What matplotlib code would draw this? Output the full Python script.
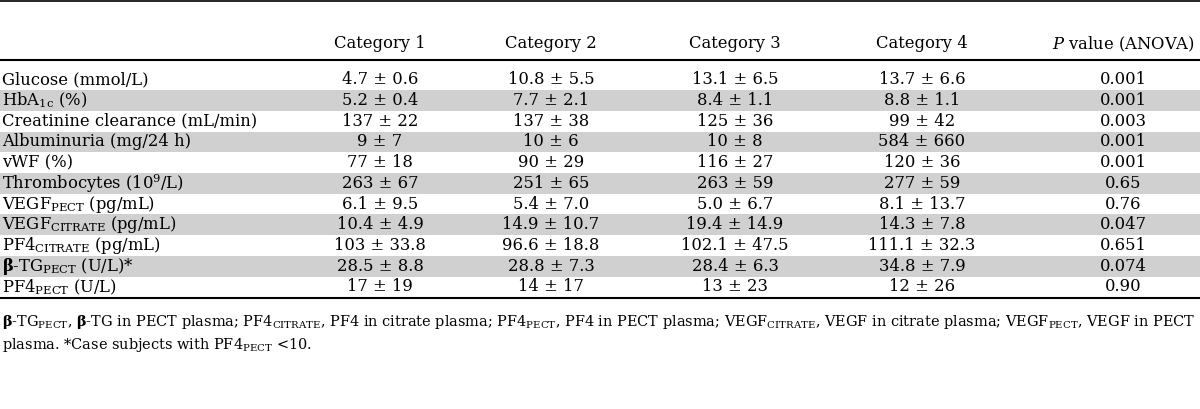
import matplotlib
matplotlib.use("Agg")
import matplotlib.pyplot as plt

FONT = "DejaVu Serif"
plt.rcParams['font.family'] = [FONT]
plt.rcParams['mathtext.fontset'] = 'custom'
plt.rcParams['mathtext.rm'] = FONT
plt.rcParams['mathtext.it'] = FONT + ':italic'
plt.rcParams['mathtext.bf'] = FONT + ':bold'

# ---- data ----
headers = ["Category 1", "Category 2", "Category 3", "Category 4", r"$P$ value (ANOVA)"]
row_labels = [
    "Glucose (mmol/L)",
    r"HbA$_{\mathrm{1c}}$ (%)",
    "Creatinine clearance (mL/min)",
    "Albuminuria (mg/24 h)",
    "vWF (%)",
    r"Thrombocytes (10$^{9}$/L)",
    r"VEGF$_{\mathrm{PECT}}$ (pg/mL)",
    r"VEGF$_{\mathrm{CITRATE}}$ (pg/mL)",
    r"PF4$_{\mathrm{CITRATE}}$ (pg/mL)",
    r"$\mathbf{\beta}$-TG$_{\mathrm{PECT}}$ (U/L)*",
    r"PF4$_{\mathrm{PECT}}$ (U/L)",
]
cat1_mean = ["4.7", "5.2", "137", "9", "77", "263", "6.1", "10.4", "103", "28.5", "17"]
cat1_sd   = ["0.6", "0.4", "22", "7", "18", "67", "9.5", "4.9", "33.8", "8.8", "19"]
cat2_mean = ["10.8", "7.7", "137", "10", "90", "251", "5.4", "14.9", "96.6", "28.8", "14"]
cat2_sd   = ["5.5", "2.1", "38", "6", "29", "65", "7.0", "10.7", "18.8", "7.3", "17"]
cat3_mean = ["13.1", "8.4", "125", "10", "116", "263", "5.0", "19.4", "102.1", "28.4", "13"]
cat3_sd   = ["6.5", "1.1", "36", "8", "27", "59", "6.7", "14.9", "47.5", "6.3", "23"]
cat4_mean = ["13.7", "8.8", "99", "584", "120", "277", "8.1", "14.3", "111.1", "34.8", "12"]
cat4_sd   = ["6.6", "1.1", "42", "660", "36", "59", "13.7", "7.8", "32.3", "7.9", "26"]
p_values  = ["0.001", "0.001", "0.003", "0.001", "0.001", "0.65", "0.76", "0.047", "0.651", "0.074", "0.90"]
footnote_lines = [
    r"$\mathbf{\beta}$-TG$_{\mathrm{PECT}}$, $\mathbf{\beta}$-TG in PECT plasma; PF4$_{\mathrm{CITRATE}}$, PF4 in citrate plasma; "
    r"PF4$_{\mathrm{PECT}}$, PF4 in PECT plasma; VEGF$_{\mathrm{CITRATE}}$, VEGF in citrate plasma; VEGF$_{\mathrm{PECT}}$, VEGF in PECT",
    r"plasma. *Case subjects with PF4$_{\mathrm{PECT}}$ <10.",
]

# ---- layout ----
W, H = 1200, 409
fig = plt.figure(figsize=(W / 100, H / 100), dpi=100)
ax = fig.add_axes([0, 0, 1, 1])
ax.set_xlim(0, W)
ax.set_ylim(H, 0)
ax.axis("off")

FS = 11.8
FS_NOTE = 10.45
col_x = [380, 551, 735, 922, 1123]
header_y = 44
row0_top = 69.5
row_h = 20.7
gray = "#d0d0d0"

ax.axhline(1.0, color="black", lw=1.2)
ax.axhline(60, color="black", lw=1.5)
bottom = row0_top + len(row_labels) * row_h
ax.axhline(bottom + 1, color="black", lw=1.5)

for j, h in enumerate(headers):
    ax.text(col_x[j], header_y, h, ha="center", va="center", fontsize=FS)

cols = [(cat1_mean, cat1_sd), (cat2_mean, cat2_sd), (cat3_mean, cat3_sd), (cat4_mean, cat4_sd)]
for i, lab in enumerate(row_labels):
    top = row0_top + i * row_h
    yc = top + row_h / 2
    if i % 2 == 1:
        ax.axhspan(top, top + row_h, color=gray, lw=0, zorder=0)
    ax.text(2, yc, lab, ha="left", va="center", fontsize=FS)
    for j, (m, s) in enumerate(cols):
        ax.text(col_x[j], yc, f"{m[i]} \u00b1 {s[i]}", ha="center", va="center", fontsize=FS)
    ax.text(col_x[4], yc, p_values[i], ha="center", va="center", fontsize=FS)

ax.text(2, 322, footnote_lines[0], ha="left", va="center", fontsize=FS_NOTE)
ax.text(2, 345, footnote_lines[1], ha="left", va="center", fontsize=FS_NOTE)

fig.savefig("out.png", dpi=100)
